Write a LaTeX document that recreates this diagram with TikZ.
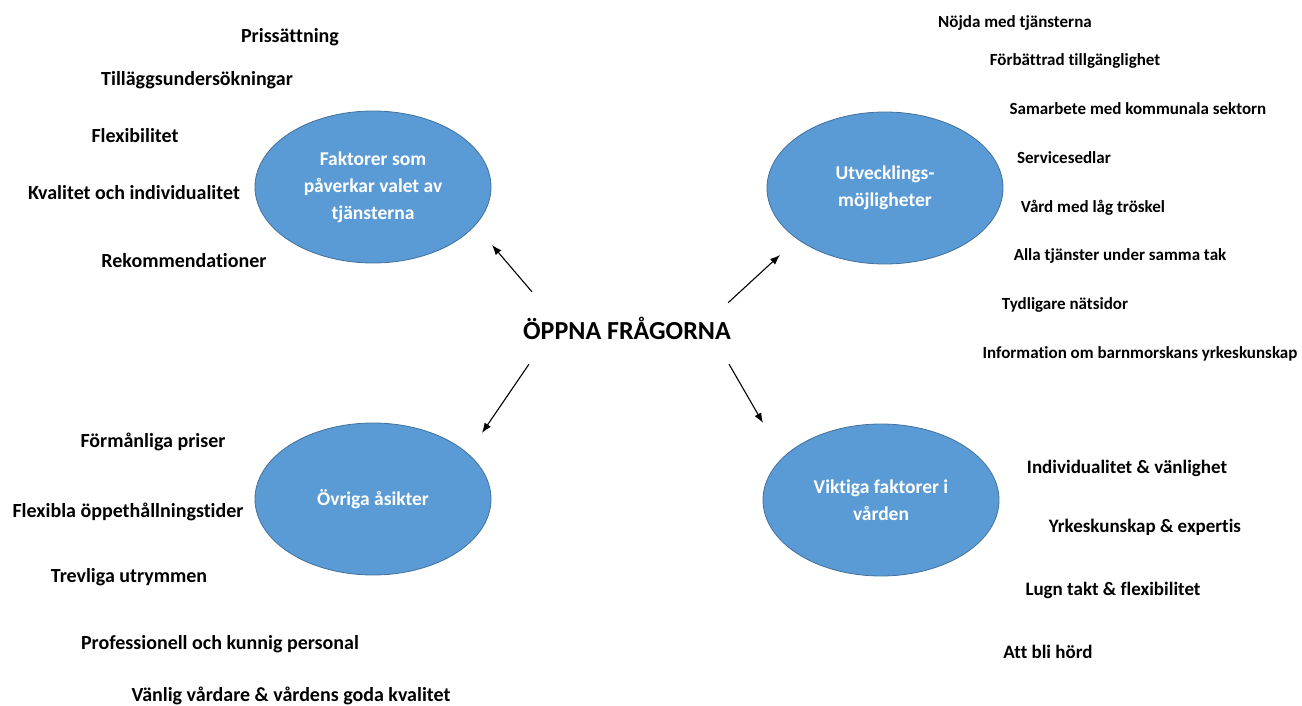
\documentclass[tikz,border=0pt]{standalone}
\usepackage{fontspec}
\setmainfont{Carlito}[Ligatures=NoCommon]
\usetikzlibrary{shapes.geometric,arrows.meta}

\definecolor{bluefill}{HTML}{5B9BD5}
\definecolor{blueedge}{HTML}{41719C}

\tikzset{
  topic/.style={ellipse, draw=blueedge, fill=bluefill, line width=0.8pt,
    minimum width=236pt, minimum height=152pt, inner sep=0pt,
    text=white, align=center, font=\bfseries\fontsize{19.5}{27}\selectfont},
  item/.style={inner sep=0pt, font=\bfseries\fontsize{20}{22}\selectfont},
  midItem/.style={item, font=\bfseries\fontsize{19}{21}\selectfont},
  smallitem/.style={item, font=\bfseries\fontsize{17}{19}\selectfont},
  arr/.style={-{Latex[length=10pt,width=7.5pt]}, line width=1.1pt}
}

\begin{document}
\begin{tikzpicture}[x=1pt, y=-1pt]

    % Fix the page to the size of the reference
    \useasboundingbox (0,0) rectangle (1302,706);

    % The central question
    \node[font=\bfseries\fontsize{26}{28}\selectfont, minimum width=202pt,
      minimum height=72pt, inner sep=0pt] (open) at (627,328) {ÖPPNA FRÅGORNA};

    % The four topics round it
    \node[topic] (factors) at (373,187) {Faktorer som\\påverkar valet av\\tjänsterna};
    \node[topic] (develop) at (885,188) {Utvecklings-\\möjligheter};
    \node[topic] (other) at (373,499) {Övriga åsikter};
    \node[topic] (important) at (881,500) {Viktiga faktorer i\\vården};

    % Free ends of the arrows
    \coordinate (tipfactors) at (492,245);
    \coordinate (tipdevelop) at (780,255);
    \coordinate (tipother) at (482,433);
    \coordinate (tipimportant) at (763,423);

    \draw[arr] ([xshift=9pt]open.north west) -- (tipfactors);
    \draw[arr] ([xshift=-3pt,yshift=-11pt]open.north east) -- (tipdevelop);
    \draw[arr] ([xshift=6pt]open.south west) -- (tipother);
    \draw[arr] ([xshift=-2pt]open.south east) -- (tipimportant);

    % Answers about the choice of services
    \node[item] (f1) at (290,37) {Prissättning};
    \node[item] (f2) at (197,80) {Tilläggsundersökningar};
    \node[item] (f3) at (135,136) {Flexibilitet};
    \node[item] (f4) at (134,193) {Kvalitet och individualitet};
    \node[item] (f5) at (184,261) {Rekommendationer};

    % Answers about development
    \node[smallitem] (d1) at (1015,23) {Nöjda med tjänsterna};
    \node[smallitem] (d2) at (1075,61) {Förbättrad tillgänglighet};
    \node[smallitem] (d3) at (1138,109) {Samarbete med kommunala sektorn};
    \node[smallitem] (d4) at (1064,158) {Servicesedlar};
    \node[smallitem] (d5) at (1093,208) {Vård med låg tröskel};
    \node[smallitem] (d6) at (1120,256) {Alla tjänster under samma tak};
    \node[smallitem] (d7) at (1065,305) {Tydligare nätsidor};
    \node[smallitem] (d8) at (1140,354) {Information om barnmorskans yrkeskunskap};

    % Other opinions
    \node[item] (o1) at (153,442) {Förmånliga priser};
    \node[item] (o2) at (128,512) {Flexibla öppethållningstider};
    \node[item] (o3) at (129,577) {Trevliga utrymmen};
    \node[item] (o4) at (220,644) {Professionell och kunnig personal};
    \node[item] (o5) at (291,696) {Vänlig vårdare \& vårdens goda kvalitet};

    % Important factors in care
    \node[midItem] (i1) at (1127,468) {Individualitet \& vänlighet};
    \node[midItem] (i2) at (1145,527) {Yrkeskunskap \& expertis};
    \node[midItem] (i3) at (1113,590) {Lugn takt \& flexibilitet};
    \node[midItem] (i4) at (1048,652) {Att bli hörd};

\end{tikzpicture}
\end{document}
